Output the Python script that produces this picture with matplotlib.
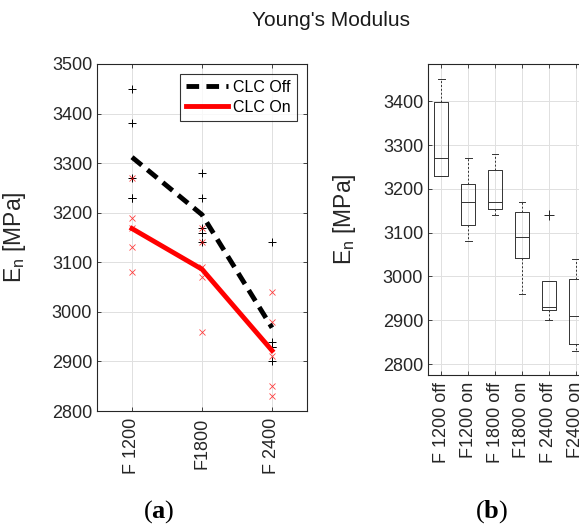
import numpy as np
import matplotlib
matplotlib.use("Agg")
import matplotlib.pyplot as plt

plt.rcParams['font.family'] = ['Liberation Sans', 'DejaVu Sans']
plt.rcParams['mathtext.fontset'] = 'custom'
plt.rcParams['mathtext.rm'] = 'Liberation Sans'
plt.rcParams['mathtext.it'] = 'Liberation Sans:italic'
plt.rcParams['mathtext.bf'] = 'Liberation Serif:bold'

# ---- data ----
speeds = ["F 1200", "F1800", "F 2400"]
clc_off = [
    [3230, 3230, 3270, 3380, 3450],
    [3140, 3160, 3170, 3230, 3280],
    [2900, 2930, 2930, 2940, 3140],
]
clc_on = [
    [3080, 3130, 3170, 3190, 3270],
    [2960, 3070, 3090, 3140, 3170],
    [2830, 2850, 2910, 2980, 3040],
]
box_labels = ["F 1200 off", "F1200 on", "F 1800 off", "F1800 on", "F 2400 off", "F2400 on"]

W, H = 579, 527
fig = plt.figure(figsize=(W / 100, H / 100), dpi=100)

spine_col = '0.15'
grid_col = '0.88'
TICK = 13
YLAB = 16.5

def style(ax):
    for s in ax.spines.values():
        s.set_color(spine_col)
        s.set_linewidth(0.8)
    ax.tick_params(direction='in', length=3, width=0.6, colors=spine_col,
                   labelcolor='0.15', labelsize=TICK, top=True, right=True)
    ax.grid(True, color=grid_col, linewidth=0.7)
    ax.set_axisbelow(True)

# ---- panel (a) ----
ax1 = fig.add_axes([97 / W, 1 - 411 / H, 210 / W, 347 / H])
style(ax1)
x = np.arange(1, len(speeds) + 1)
for i, (off, on) in enumerate(zip(clc_off, clc_on)):
    ax1.plot([x[i]] * len(off), off, '+', color='black', ms=6, mew=0.7, zorder=3)
    ax1.plot([x[i]] * len(on), on, 'x', color='red', ms=5, mew=0.6, alpha=0.75, zorder=3)
off_mean = [np.mean(v) for v in clc_off]
on_mean = [np.mean(v) for v in clc_on]
ax1.plot(x, off_mean, color='black', lw=3.5, linestyle=(0, (2.6, 1.5)), label='CLC Off', zorder=4)
ax1.plot(x, on_mean, color='red', lw=3.5, label='CLC On', zorder=4)
ax1.set_xlim(0.5, 3.5)
ax1.set_ylim(2800, 3500)
ax1.set_yticks(np.arange(2800, 3501, 100))
ax1.set_xticks(x)
ax1.set_xticklabels(speeds, rotation=90)
ax1.tick_params(axis='x', pad=5)
ax1.set_ylabel(r'E$_\mathrm{n}$ [MPa]', fontsize=YLAB, color='0.15')
ax1.yaxis.set_label_coords(-0.33, 0.5)
leg = ax1.legend(loc='upper right', fontsize=11.5, frameon=True, fancybox=False,
                 handlelength=2.6, borderpad=0.4, labelspacing=0.3,
                 handletextpad=0.35, borderaxespad=0.6)
leg.get_frame().set_edgecolor('black')
leg.get_frame().set_linewidth(0.8)

# ---- panel (b) ----
ax2 = fig.add_axes([428 / W, 1 - 375 / H, 161 / W, 311 / H])
style(ax2)
groups = []
for off, on in zip(clc_off, clc_on):
    groups.append(off)
    groups.append(on)
stats = []
for g, lab in zip(groups, box_labels):
    g = np.asarray(g, dtype=float)
    q1, med, q3 = np.percentile(g, [25, 50, 75], method='hazen')
    iqr = q3 - q1
    inside = g[(g >= q1 - 1.5 * iqr) & (g <= q3 + 1.5 * iqr)]
    lo = min(inside.min(), q1)
    hi = max(inside.max(), q3)
    fl = g[(g < q1 - 1.5 * iqr) | (g > q3 + 1.5 * iqr)]
    stats.append(dict(med=med, q1=q1, q3=q3, whislo=lo, whishi=hi, fliers=fl, label=lab))
ax2.bxp(stats, positions=np.arange(1, len(stats) + 1), widths=0.52,
        boxprops=dict(color='0.2', linewidth=0.7),
        whiskerprops=dict(color='0.2', linewidth=0.7, linestyle=(0, (2, 2))),
        capprops=dict(color='0.2', linewidth=0.7),
        medianprops=dict(color='0.2', linewidth=0.7),
        flierprops=dict(marker='+', markeredgecolor='0.15', markersize=7, markeredgewidth=0.7),
        capwidths=0.25)
ax2.set_xlim(0.5, len(stats) + 0.5)
ax2.set_ylim(2775, 3485)
ax2.set_yticks(np.arange(2800, 3401, 100))
ax2.set_xticks(np.arange(1, len(stats) + 1))
ax2.set_xticklabels(box_labels, rotation=90)
ax2.tick_params(axis='x', pad=5)
ax2.set_ylabel(r'E$_\mathrm{n}$ [MPa]', fontsize=YLAB, color='0.15')
ax2.yaxis.set_label_coords(-0.435, 0.5)

# ---- texts ----
fig.text(331 / W, 1 - 20 / H, "Young's Modulus", ha='center', va='center', fontsize=15, color='0.1')
fig.text(159 / W, 1 - 512 / H, r'($\mathbf{a}$)', ha='center', va='center',
         fontsize=19, family='Liberation Serif')
fig.text(492 / W, 1 - 512 / H, r'($\mathbf{b}$)', ha='center', va='center',
         fontsize=19, family='Liberation Serif')

fig.savefig('out.png', dpi=100)
